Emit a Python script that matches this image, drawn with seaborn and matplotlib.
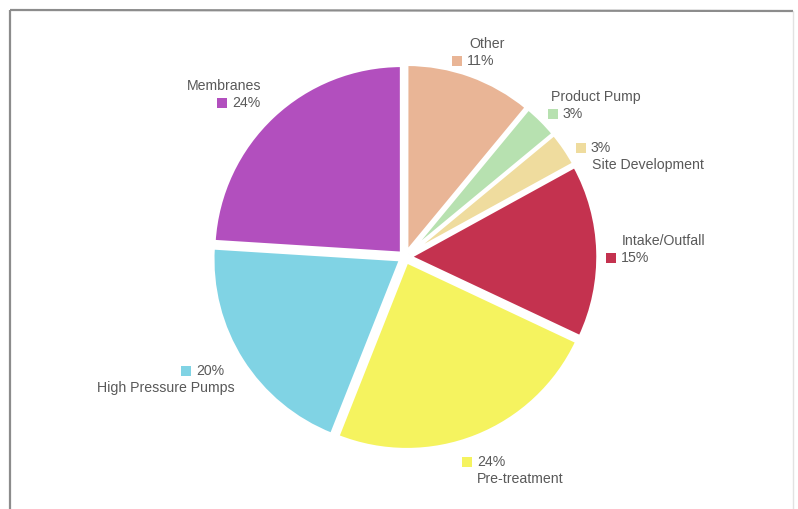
import matplotlib
matplotlib.use("Agg")
import matplotlib.pyplot as plt
from matplotlib.patches import Rectangle
import seaborn as sns

# Cost breakdown of a desalination plant (percent of total)
categories = ["Other", "Product Pump", "Site Development", "Intake/Outfall",
              "Pre-treatment", "High Pressure Pumps", "Membranes"]
shares = [11, 3, 3, 15, 24, 20, 24]
colors = ["#E9B596", "#B7E1B0", "#EFDC9E", "#C4324F",
          "#F5F35F", "#80D3E4", "#B24FBE"]

# Label layout in pixel space (y measured from the top)
label_layout = {
    "Other":               dict(sq=(457, 61), name_first=True,  name_x=505, name_ha="right"),
    "Product Pump":        dict(sq=(553, 114), name_first=True, name_x=551, name_ha="left"),
    "Site Development":    dict(sq=(581, 148), name_first=False, name_x=592, name_ha="left"),
    "Intake/Outfall":      dict(sq=(611, 258), name_first=True, name_x=622, name_ha="left"),
    "Pre-treatment":       dict(sq=(467, 462), name_first=False, name_x=477, name_ha="left"),
    "High Pressure Pumps": dict(sq=(186, 371), name_first=False, name_x=235, name_ha="right"),
    "Membranes":           dict(sq=(222, 103), name_first=True,  name_x=261, name_ha="right"),
}

sns.set_theme(style="white")
plt.rcParams["font.family"] = ["Liberation Sans", "DejaVu Sans"]

W, H = 798, 509
fig = plt.figure(figsize=(W / 100, H / 100), dpi=100)
ax = fig.add_axes([0, 0, 1, 1])
ax.axis("off")

# Outer frame
frame_kw = dict(color="#8c8c8c", lw=1.6, solid_capstyle="butt")
ax.plot([10, 10], [H - 10, -5], **frame_kw)
ax.plot([10, 793], [H - 10, H - 11], **frame_kw)
ax.plot([793, 793], [H - 11, -5], color="#e2e2e2", lw=1.0)

# Exploded pie, clockwise from twelve o'clock (explode given in pixels)
ax.pie(shares, colors=colors, startangle=90, counterclock=False,
       center=(405, H - 257), radius=188,
       explode=[5] * len(shares),
       wedgeprops=dict(edgecolor="white", linewidth=2.5))
ax.set_xlim(0, W)
ax.set_ylim(0, H)
ax.set_aspect("equal")

text_kw = dict(fontsize=10.2, color="#595959", va="center")
line_gap = 17
for name, value, col in zip(categories, shares, colors):
    lay = label_layout[name]
    sx, sy = lay["sq"]
    ax.add_patch(Rectangle((sx - 5, H - sy - 5), 10, 10, facecolor=col,
                           edgecolor="none", zorder=3))
    ax.text(sx + 10, H - sy, f"{value}%", ha="left", **text_kw)
    name_y = sy - line_gap if lay["name_first"] else sy + line_gap
    ax.text(lay["name_x"], H - name_y, name, ha=lay["name_ha"], **text_kw)

fig.savefig("out.png", dpi=100, facecolor="white")
